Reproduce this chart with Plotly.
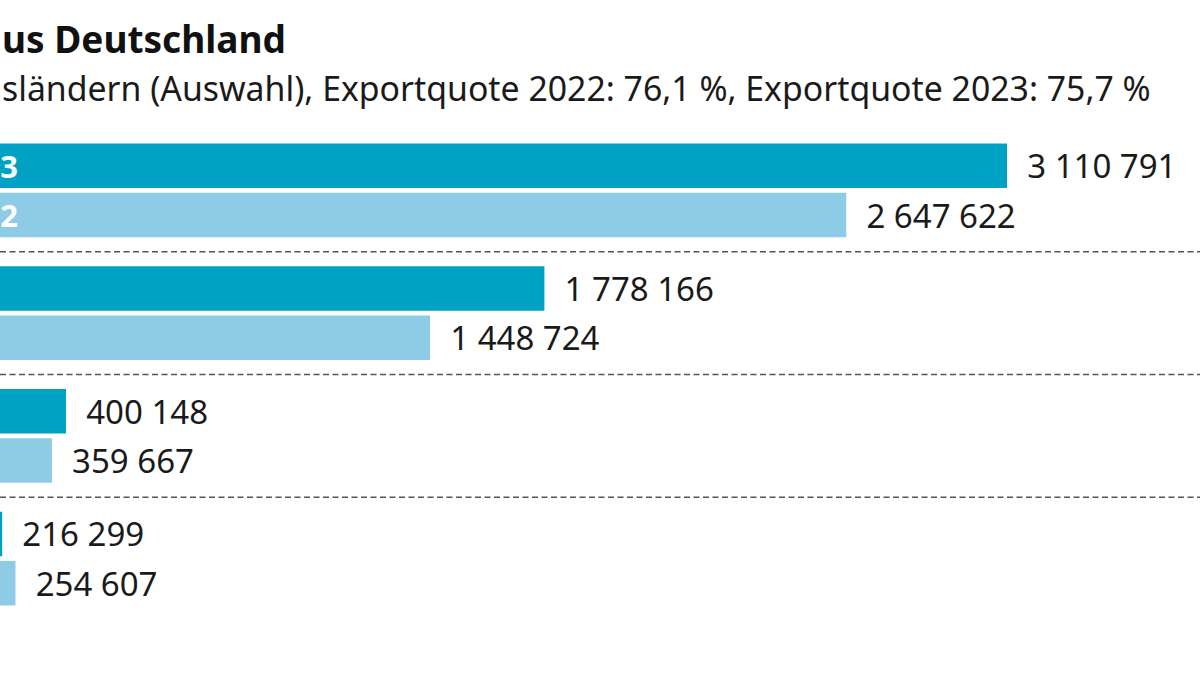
import plotly.graph_objects as go

# Pkw-Exporte aus Deutschland, Auswahl von vier Bestimmungsländern
# (die Ländernamen liegen im Bildausschnitt links außerhalb)
groups = [0, 1, 2, 3]
years = ["2023", "2022"]
exports_2023 = [3110791, 1778166, 400148, 216299]
exports_2022 = [2647622, 1448724, 359667, 254607]

title = "us Deutschland"
subtitle = "sländern (Auswahl), Exportquote 2022: 76,1 %, Exportquote 2023: 75,7 %"

dark = "#00a2c3"
light = "#8ecbe5"
font = "Noto Sans"
bargap = 0.195

fig = go.Figure()

for year, values, color in [(years[0], exports_2023, dark), (years[1], exports_2022, light)]:
    fig.add_trace(go.Bar(
        y=groups,
        x=values,
        name=year,
        orientation="h",
        marker=dict(color=color, line_width=0),
        texttemplate="\u00a0\u00a0%{x:,}",
        textposition="outside",
        constraintext="none",
        cliponaxis=False,
        textfont=dict(family=font, size=33, color="#1a1a1a"),
        hoverinfo="skip",
    ))

# dashed separators between the groups
for i in range(len(groups) - 1):
    fig.add_shape(
        type="line", xref="paper", x0=0, x1=1,
        y0=groups[i] + 0.5, y1=groups[i] + 0.5,
        line=dict(color="#555555", width=1.5, dash="6px,3.5px"),
    )

# year labels inside the first pair of bars (cut off at the left edge)
offset = (1 - bargap) / 4
for year, dy in [(years[0], -offset), (years[1], offset)]:
    fig.add_annotation(
        text="<b>" + year + "</b>", xref="paper", x=0.0165, xanchor="right",
        y=groups[0] + dy, yanchor="middle", showarrow=False,
        font=dict(family=font, size=31, color="white"),
    )

fig.add_annotation(
    text="<b>" + title + "</b>", xref="paper", yref="paper", x=0, y=1.185,
    xanchor="left", yanchor="middle", showarrow=False,
    font=dict(family=font, size=37, color="#111111"),
)
fig.add_annotation(
    text=subtitle, xref="paper", yref="paper", x=0, y=1.083,
    xanchor="left", yanchor="middle", showarrow=False,
    font=dict(family=font, size=33.8, color="#1a1a1a"),
)

fig.update_layout(
    width=1200,
    height=674,
    margin=dict(l=0, r=0, t=128.5, b=53.5),
    barmode="group",
    bargap=bargap,
    bargroupgap=0.1,
    showlegend=False,
    separators=", ",
    paper_bgcolor="white",
    plot_bgcolor="white",
    xaxis=dict(range=[209990, 3666610], visible=False),
    yaxis=dict(range=[3.5, -0.5], visible=False),
)

fig.write_html("out.html", config={"displayModeBar": False},
               post_script="document.body.style.margin='0';")
